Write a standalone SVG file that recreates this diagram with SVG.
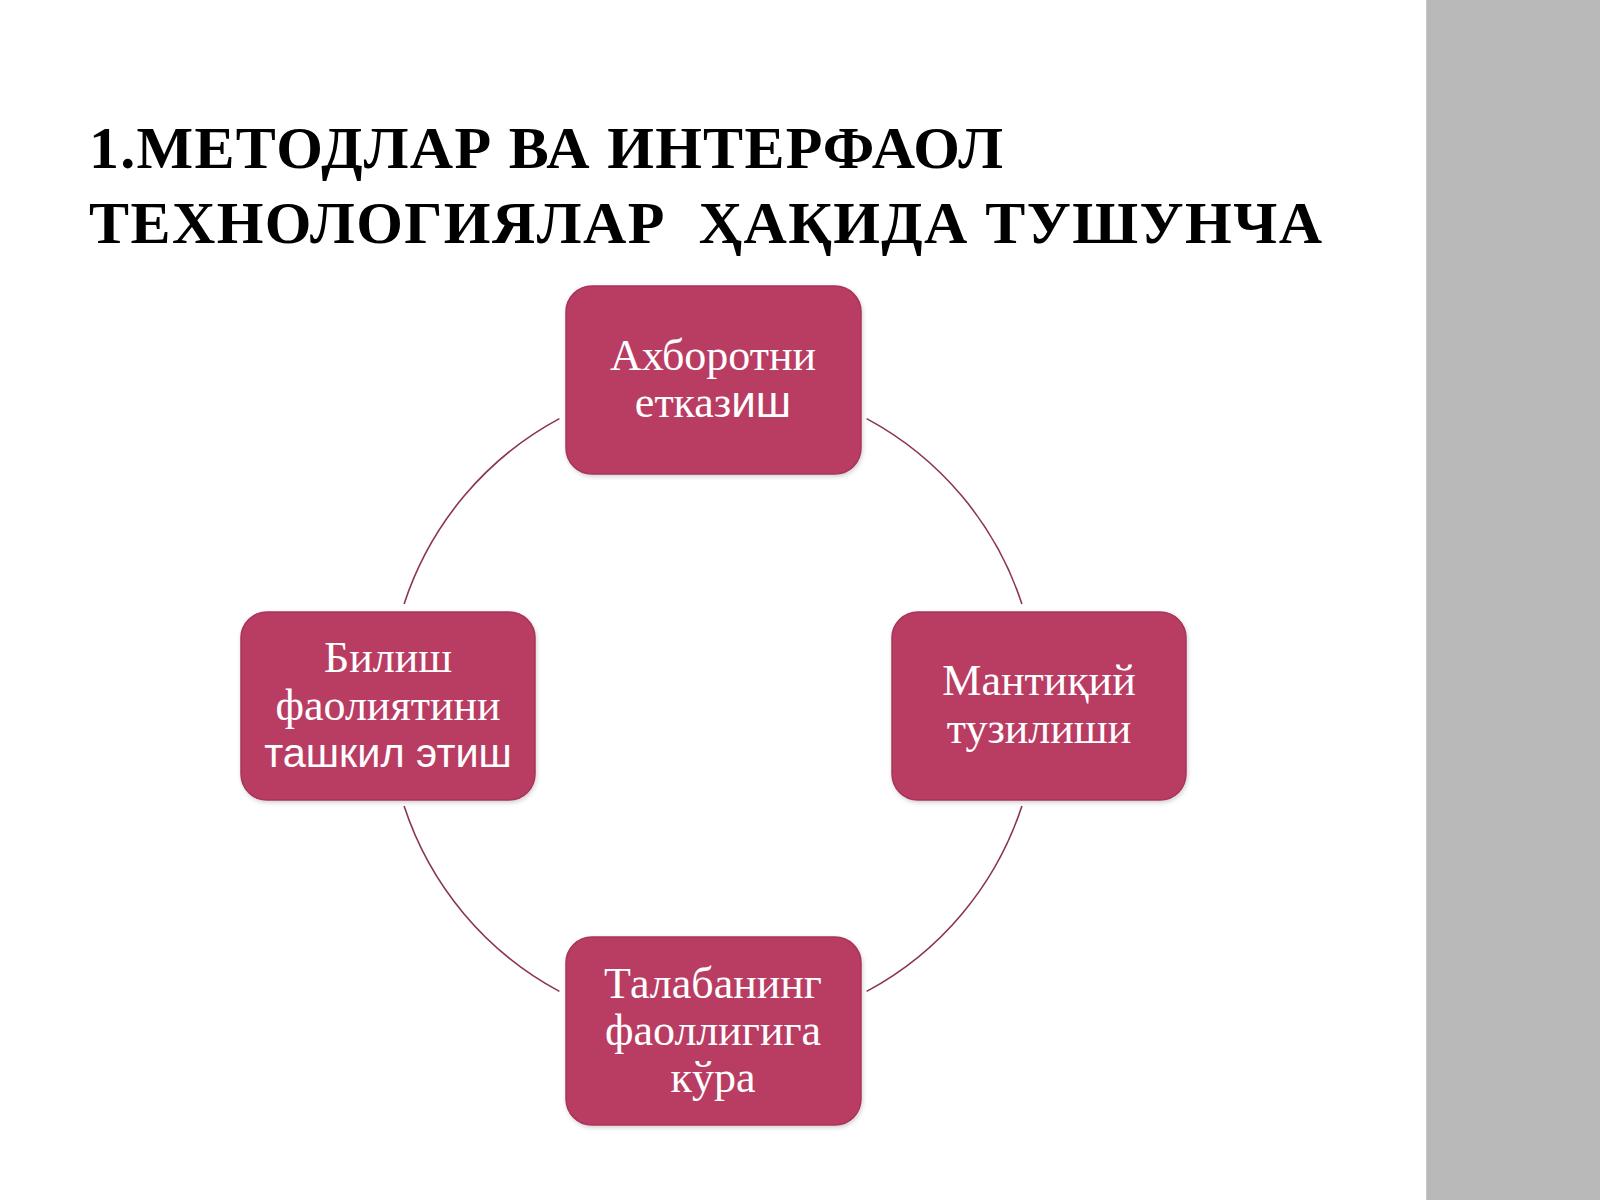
<svg xmlns="http://www.w3.org/2000/svg" width="1600" height="1200" viewBox="0 0 1600 1200">
  <style>
    .title { font-family: "Liberation Serif", "DejaVu Serif", serif; font-weight: bold; font-size: 60px; fill: #000; }
    .box { fill: #B93D64; stroke: #A8345A; stroke-width: 1.5; }
    .lbl { font-family: "Liberation Serif", "DejaVu Serif", serif; font-size: 44px; fill: #FFFFFF; text-anchor: middle; }
    .sans { font-family: "Liberation Sans", "DejaVu Sans", sans-serif; }
    .arc { fill: none; stroke: #8A3556; stroke-width: 1.6; }
  </style>
  <defs>
    <filter id="sh" x="-10%" y="-10%" width="120%" height="125%">
      <feDropShadow dx="1" dy="2" stdDeviation="2" flood-color="#000" flood-opacity="0.18"/>
    </filter>
  </defs>
  <rect x="0" y="0" width="1600" height="1200" fill="#FFFFFF"/>
  <rect x="1426" y="0" width="174" height="1200" fill="#B9B9B9"/>
  <line x1="1426.5" y1="0" x2="1426.5" y2="1200" stroke="#C8C8C8" stroke-width="1"/>

  <g id="title">
    <text class="title" x="89" y="168" textLength="914" lengthAdjust="spacing">1.МЕТОДЛАР ВА ИНТЕРФАОЛ</text>
    <text class="title" x="89" y="243" textLength="1233" lengthAdjust="spacing" xml:space="preserve">ТЕХНОЛОГИЯЛАР  ҲАҚИДА ТУШУНЧА</text>
  </g>

  <g id="connectors">
    <path class="arc" d="M404.1,604 A325,325 0 0 1 559.4,418.6"/>
    <path class="arc" d="M866.6,418.6 A325,325 0 0 1 1021.9,604"/>
    <path class="arc" d="M1021.9,806 A325,325 0 0 1 866.6,991.4"/>
    <path class="arc" d="M559.4,991.4 A325,325 0 0 1 404.1,806"/>
  </g>

  <g id="node-top">
    <rect class="box" x="566" y="286" width="295" height="188" rx="26" ry="26" filter="url(#sh)"/>
    <text class="lbl" x="713" y="370">Ахборотни</text>
    <text class="lbl" x="713" y="417">етказ<tspan class="sans">иш</tspan></text>
  </g>

  <g id="node-right">
    <rect class="box" x="892" y="612" width="294" height="188" rx="26" ry="26" filter="url(#sh)"/>
    <text class="lbl" x="1039" y="695">Мантиқий</text>
    <text class="lbl" x="1039" y="743">тузилиши</text>
  </g>

  <g id="node-bottom">
    <rect class="box" x="566" y="937" width="295" height="188" rx="26" ry="26" filter="url(#sh)"/>
    <text class="lbl" x="713" y="998">Талабанинг</text>
    <text class="lbl" x="713" y="1045">фаоллигига</text>
    <text class="lbl" x="713" y="1092">кўра</text>
  </g>

  <g id="node-left">
    <rect class="box" x="241" y="612" width="294" height="188" rx="26" ry="26" filter="url(#sh)"/>
    <text class="lbl" x="388" y="672">Билиш</text>
    <text class="lbl" x="388" y="720">фаолиятини</text>
    <text class="lbl sans" x="388" y="767" style="font-size:41.5px">ташкил этиш</text>
  </g>
</svg>
